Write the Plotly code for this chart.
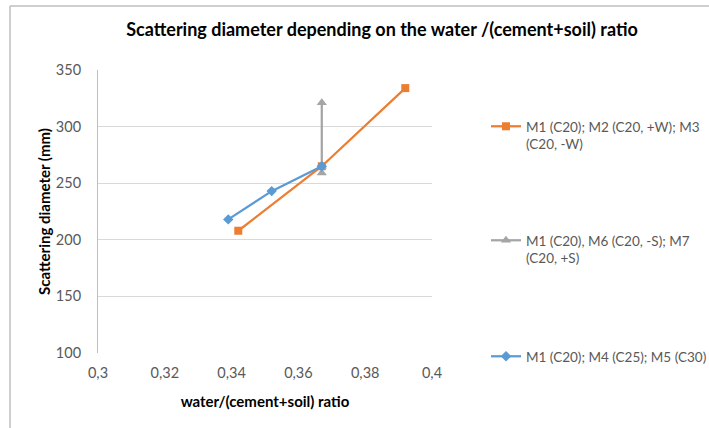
import plotly.graph_objects as go

# Data
orange_x = [0.342, 0.367, 0.392]
orange_y = [208, 265, 334]
gray_x = [0.367, 0.367, 0.367]
gray_y = [265, 259, 321]
blue_x = [0.339, 0.352, 0.367]
blue_y = [218, 243, 265]

names = [
    "M1 (C20); M2 (C20, +W); M3<br>(C20, -W)",
    "M1 (C20), M6 (C20, -S); M7<br>(C20, +S)",
    "M1 (C20); M4 (C25); M5 (C30)",
]

FONT = "Lato"
TXT = "#595959"

fig = go.Figure()
fig.add_trace(go.Scatter(x=orange_x, y=orange_y, mode="lines+markers", name=names[0],
                         legend="legend",
                         line=dict(color="#ED7D31", width=2.25),
                         marker=dict(symbol="square", size=8, color="#ED7D31")))
fig.add_trace(go.Scatter(x=gray_x, y=gray_y, mode="lines+markers", name=names[1],
                         legend="legend2",
                         line=dict(color="#A5A5A5", width=2.25),
                         marker=dict(symbol="triangle-up", size=9, color="#A5A5A5")))
fig.add_trace(go.Scatter(x=blue_x, y=blue_y, mode="lines+markers", name=names[2],
                         legend="legend3",
                         line=dict(color="#5B9BD5", width=2.25),
                         marker=dict(symbol="diamond", size=8, color="#5B9BD5")))

L, R, T, B = 98, 432, 70, 353
W, H = 709, 428
pw, ph = R - L, B - T

def px(xp):
    return (xp - L) / pw

def py(yp):
    return (B - yp) / ph

LEG_FONT = dict(family=FONT, size=13.5, color=TXT)

def leg(top):
    return dict(x=px(486), xanchor="left", y=py(top), yanchor="top", valign="top",
                font=LEG_FONT, bgcolor="rgba(0,0,0,0)", itemwidth=30)

fig.update_layout(
    width=W, height=H,
    margin=dict(l=L, r=W - R, t=T, b=H - B, autoexpand=False),
    paper_bgcolor="white", plot_bgcolor="white",
    separators=", ",
    font=dict(family=FONT, size=14, color=TXT),
    title=dict(text="<b>Scattering diameter depending on the water /(cement+soil) ratio</b>",
               x=px(382), xanchor="center", y=1 - 30 / H, yanchor="middle",
               xref="paper", font=dict(family=FONT, size=18, color="#000000")),
    showlegend=True,
    legend=leg(126 - 15),
    legend2=leg(240 - 15),
    legend3=leg(354 - 13),
    xaxis=dict(range=[0.3, 0.4], dtick=0.02, tick0=0.3, showgrid=False, zeroline=False,
               showline=False, ticks="", ticklabelstandoff=9,
               tickfont=dict(family=FONT, size=14.5, color=TXT),
               title=dict(text="<b>water/(cement+soil) ratio</b>", standoff=16,
                          font=dict(family=FONT, size=15, color="#000000"))),
    yaxis=dict(range=[100, 350], dtick=50, showgrid=True, gridcolor="#D9D9D9", gridwidth=1,
               zeroline=False, showline=True, linecolor="#BFBFBF", linewidth=1,
               ticks="", ticklabelstandoff=13,
               tickfont=dict(family=FONT, size=14.5, color=TXT),
               title=dict(text="<b>Scattering diameter (mm)</b>", standoff=1,
                          font=dict(family=FONT, size=15, color="#000000"))),
)

# chart-area border (top and left edges visible)
fig.add_shape(type="line", xref="paper", yref="paper",
              x0=px(10), x1=px(10), y0=py(H + 5), y1=py(6),
              line=dict(color="#BFBFBF", width=1.5))
fig.add_shape(type="line", xref="paper", yref="paper",
              x0=px(10), x1=px(W + 5), y0=py(6), y1=py(6),
              line=dict(color="#BFBFBF", width=1.5))

fig.write_html("out.html")
